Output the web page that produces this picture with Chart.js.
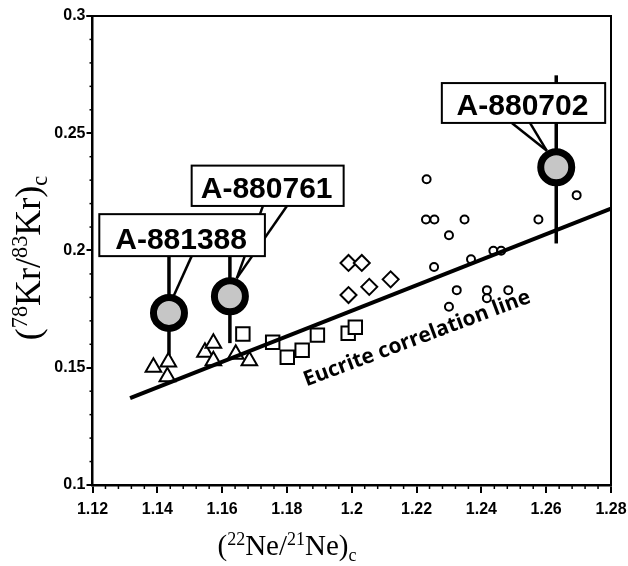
<!DOCTYPE html>
<html><head><meta charset="utf-8">
<script src="https://cdn.jsdelivr.net/npm/chart.js@4.4.1/dist/chart.umd.min.js"></script>
<style>html,body{margin:0;padding:0;background:#fff;}#wrap{width:628px;height:566px;}</style>
</head><body><div id="wrap"><canvas id="c" width="628" height="566"></canvas></div>
<script>
// ---- data ----
const xTickLabels = ['1.12','1.14','1.16','1.18','1.2','1.22','1.24','1.26','1.28'];
const yTickLabels = ['0.1','0.15','0.2','0.25','0.3'];

const triX = [1.1388,1.1434,1.1431,1.1547,1.1573,1.1573,1.1642,1.1684];
const triY = [0.1502,0.1525,0.1462,0.1566,0.1604,0.1530,0.1558,0.1530];
const sqX  = [1.1664,1.1756,1.1801,1.1847,1.1894,1.1989,1.2011];
const sqY  = [0.1644,0.1609,0.1545,0.1575,0.1639,0.1647,0.1673];
const diaX = [1.1990,1.2031,1.1990,1.2054,1.2120];
const diaY = [0.1947,0.1947,0.1810,0.1845,0.1877];
const cirX = [1.2231,1.2229,1.2255,1.2348,1.2300,1.2368,1.2437,1.2461,1.2254,1.2324,1.2417,1.2417,1.2483,1.2300,1.2576,1.2694];
const cirY = [0.2304,0.2132,0.2132,0.2132,0.2065,0.1963,0.1999,0.1999,0.1930,0.1831,0.1831,0.1796,0.1831,0.1760,0.2132,0.2236];

const namedNames = ['A-881388','A-880761','A-880702'];
const namedX    = [1.1436,1.1624,1.2631];
const namedY    = [0.1734,0.1805,0.2355];
const namedLow  = [0.1554,0.1605,0.2030];
const namedHigh = [0.2065,0.2044,0.2747];

const lineX = [1.1316,1.28];
const lineY = [0.1370,0.2179];
const lineLabel = 'Eucrite correlation line';

// ---- annotation geometry (data units) ----
const calloutBoxes = [
  {l:1.1221, r:1.1732, t:0.2155, b:0.1976},
  {l:1.1506, r:1.1975, t:0.2362, b:0.2190},
  {l:1.2278, r:1.2782, t:0.2714, b:0.2544}
];
const calloutLeaders = [
  [[1.1506, 1.1449, 0.1802]],
  [[1.1726, 1.1645, 0.1881],[1.1800, 1.1645, 0.1881]],
  [[1.2494, 1.2602, 0.2425],[1.2550, 1.2602, 0.2425]]
];
const lineLabelPos = {x:1.2208, y:0.1600, angle:-20.5};

const pts = (xs, ys) => xs.map((x, i) => ({x, y: ys[i]}));

function drawRich(ctx, parts, size, x, y) {
  const f = s => `${s}px "Liberation Serif", "Times New Roman", serif`;
  const small = size * 0.62;
  let w = 0;
  parts.forEach(p => { ctx.font = f(p[1] ? small : size); w += ctx.measureText(p[0]).width; });
  let cx = x - w / 2;
  ctx.textAlign = 'left'; ctx.textBaseline = 'alphabetic'; ctx.fillStyle = '#000';
  parts.forEach(p => {
    ctx.font = f(p[1] ? small : size);
    let dy = 0;
    if (p[1] === 'sup') dy = -size * 0.36;
    if (p[1] === 'sub') dy = size * 0.2;
    ctx.fillText(p[0], cx, y + dy);
    cx += ctx.measureText(p[0]).width;
  });
}

const annot = {
  id: 'annot',
  beforeDatasetsDraw(c) {
    const ctx = c.ctx, X = c.scales.x, Y = c.scales.y;
    ctx.save();
    ctx.strokeStyle = '#000';
    ctx.lineWidth = 3.5;
    namedX.forEach((x, i) => {
      ctx.beginPath();
      ctx.moveTo(X.getPixelForValue(x), Y.getPixelForValue(namedLow[i]));
      ctx.lineTo(X.getPixelForValue(x), Y.getPixelForValue(namedHigh[i]));
      ctx.stroke();
    });
    ctx.lineWidth = 2.5;
    calloutLeaders.forEach((ls, i) => {
      ls.forEach(l => {
        ctx.beginPath();
        ctx.moveTo(X.getPixelForValue(l[0]), Y.getPixelForValue(calloutBoxes[i].b));
        ctx.lineTo(X.getPixelForValue(l[1]), Y.getPixelForValue(l[2]));
        ctx.stroke();
      });
    });
    ctx.restore();
  },
  afterDatasetsDraw(c) {
    const ctx = c.ctx, X = c.scales.x, Y = c.scales.y, a = c.chartArea;
    ctx.save();
    calloutBoxes.forEach((b, i) => {
      const l = X.getPixelForValue(b.l), r = X.getPixelForValue(b.r);
      const t = Y.getPixelForValue(b.t), bt = Y.getPixelForValue(b.b);
      ctx.fillStyle = '#fff';
      ctx.fillRect(l, t, r - l, bt - t);
      ctx.lineWidth = 2; ctx.strokeStyle = '#000';
      ctx.strokeRect(l, t, r - l, bt - t);
      ctx.fillStyle = '#000';
      ctx.font = 'bold 30px "Liberation Sans", Arial, sans-serif';
      ctx.textAlign = 'center'; ctx.textBaseline = 'alphabetic';
      ctx.fillText(namedNames[i], (l + r) / 2 - 1, bt - 7.5);
    });
    ctx.save();
    ctx.translate(X.getPixelForValue(lineLabelPos.x), Y.getPixelForValue(lineLabelPos.y));
    ctx.rotate(lineLabelPos.angle * Math.PI / 180);
    ctx.font = 'bold 21px "Open Sans", sans-serif';
    ctx.textAlign = 'center'; ctx.textBaseline = 'alphabetic'; ctx.fillStyle = '#000';
    ctx.fillText(lineLabel, 0, 0);
    ctx.restore();
    ctx.strokeStyle = '#000'; ctx.lineWidth = 2;
    ctx.beginPath();
    ctx.moveTo(a.left - 6, a.top); ctx.lineTo(a.right, a.top); ctx.lineTo(a.right, a.bottom);
    ctx.stroke();
    ctx.lineWidth = 1.5;
    for (let i = 0; i <= 40; i++) {
      if (i % 5 === 0) continue;
      const xp = X.getPixelForValue(1.12 + i * 0.004);
      ctx.beginPath(); ctx.moveTo(xp, a.bottom); ctx.lineTo(xp, a.bottom + 4); ctx.stroke();
    }
    for (let i = 0; i <= 20; i++) {
      if (i % 5 === 0) continue;
      const yp = Y.getPixelForValue(0.1 + i * 0.01);
      ctx.beginPath(); ctx.moveTo(a.left - 3, yp); ctx.lineTo(a.left, yp); ctx.stroke();
    }
    ctx.restore();
  },
  afterDraw(c) {
    const ctx = c.ctx;
    ctx.save();
    drawRich(ctx, [['('],['22','sup'],['Ne'],['/'],['21','sup'],['Ne'],[')'],['c','sub']], 29, 287, 555);
    ctx.translate(40, 258);
    ctx.rotate(-Math.PI / 2);
    drawRich(ctx, [['('],['78','sup'],['Kr'],['/'],['83','sup'],['Kr'],[')'],['c','sub']], 36, 0, 0);
    ctx.restore();
  }
};

const xTickFont = {family: '"Liberation Sans", Arial, sans-serif', size: 16, weight: 'bold', lineHeight: 2.1};
const yTickFont = {family: '"Liberation Sans", Arial, sans-serif', size: 16, weight: 'bold', lineHeight: 0.8};

new Chart(document.getElementById('c'), {
  type: 'scatter',
  data: {
    datasets: [
      {data: pts(namedX, namedY), pointStyle: 'circle', pointRadius: 15.5, borderWidth: 7,
       borderColor: '#000', backgroundColor: '#c6c6c6'},
      {type: 'line', data: pts(lineX, lineY), borderColor: '#000', borderWidth: 4, pointRadius: 0, fill: false},
      {data: pts(triX, triY), pointStyle: 'triangle', pointRadius: 9, borderWidth: 2, borderColor: '#000', backgroundColor: '#fff'},
      {data: pts(sqX, sqY), pointStyle: 'rect', pointRadius: 9.5, borderWidth: 2, borderColor: '#000', backgroundColor: '#fff'},
      {data: pts(diaX, diaY), pointStyle: 'rectRot', pointRadius: 8, borderWidth: 2, borderColor: '#000', backgroundColor: '#fff'},
      {data: pts(cirX, cirY), pointStyle: 'circle', pointRadius: 4, borderWidth: 2, borderColor: '#000', backgroundColor: '#fff'}
    ]
  },
  options: {
    responsive: false, animation: false, events: [],
    layout: {autoPadding: false, padding: {left: 0, right: 17, top: 16, bottom: 0}},
    plugins: {legend: {display: false}, tooltip: {enabled: false}},
    scales: {
      x: {
        type: 'linear', min: 1.12, max: 1.28,
        afterFit(s) { s.height = 81; },
        ticks: {stepSize: 0.02, font: xTickFont, color: '#000', padding: 0, maxRotation: 0,
                callback: (v, i) => xTickLabels[i]},
        grid: {display: true, drawOnChartArea: false, drawTicks: true, tickLength: 8, color: '#000', lineWidth: 2},
        border: {display: true, color: '#000', width: 2.5}
      },
      y: {
        type: 'linear', min: 0.1, max: 0.3,
        afterFit(s) { s.width = 92.5; },
        ticks: {stepSize: 0.05, font: yTickFont, color: '#000', padding: 1,
                callback: (v, i) => yTickLabels[i]},
        grid: {display: true, drawOnChartArea: false, drawTicks: true, tickLength: 6, color: '#000', lineWidth: 2},
        border: {display: true, color: '#000', width: 2.5}
      }
    }
  },
  plugins: [annot]
});
</script></body></html>
